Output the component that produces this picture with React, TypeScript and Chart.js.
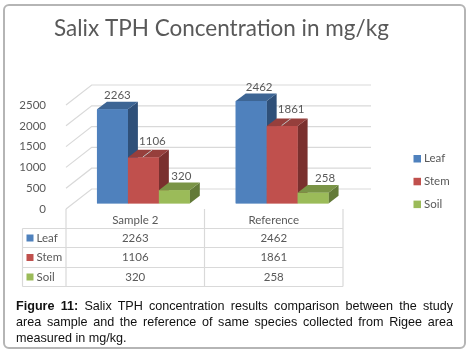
import React, { useEffect, useRef } from "react";
import { Chart, registerables } from "chart.js";

Chart.register(...registerables);

const categories = ["Sample 2", "Reference"];
const leafValues = [2263, 2462];
const stemValues = [1106, 1861];
const soilValues = [320, 258];
const yTicks = [0, 500, 1000, 1500, 2000, 2500];
const seriesNames = ["Leaf", "Stem", "Soil"];
const seriesFront = ["#4f81bd", "#c0504d", "#9bbb59"];
const seriesTop = ["#3d6594", "#963f3c", "#7a9446"];
const seriesSide = ["#2f5079", "#7a302e", "#637a38"];
const titleText = "Salix TPH Concentration in mg/kg";
const captionLead = "Figure 11:";
const captionText =
  " Salix TPH concentration results comparison between the study area sample and the reference of same species collected from Rigee area measured in mg/kg.";

const FONT = "Lato, 'Open Sans', sans-serif";
const TEXT = "#595959";
const GRID = "#d9d9d9";
const DX = 10, DY = 7.7;
const WALL_DX = 25.7, WALL_DY = 14.5;
// data label offsets from the bar's top centre, per series then per category
const LABEL_DX = [[5, 8], [9, 9], [7, 12]];
const LABEL_DY = [[10, 10], [12, 13], [10, 11]];

const threeD = {
  id: "threeD",
  beforeDatasetsDraw(chart: any) {
    const { ctx } = chart;
    const y = chart.scales.y;
    const x0 = 66;
    ctx.save();
    ctx.strokeStyle = GRID;
    ctx.lineWidth = 1.2;
    yTicks.forEach((v) => {
      const py = y.getPixelForValue(v);
      ctx.beginPath();
      ctx.moveTo(x0, py + 5.5);
      ctx.lineTo(x0 + WALL_DX, py - WALL_DY);
      ctx.lineTo(371, py - WALL_DY);
      ctx.stroke();
    });
    ctx.restore();
  },
  afterDatasetsDraw(chart: any) {
    const { ctx } = chart;
    const base = chart.scales.y.getPixelForValue(0);
    ctx.save();
    chart.data.datasets.forEach((_: any, i: number) => {
      chart.getDatasetMeta(i).data.forEach((bar: any) => {
        const l = bar.x - bar.width / 2;
        const r = bar.x + bar.width / 2;
        const t = bar.y;
        ctx.fillStyle = seriesSide[i];
        ctx.beginPath();
        ctx.moveTo(r, t);
        ctx.lineTo(r + DX, t - DY);
        ctx.lineTo(r + DX, base - DY);
        ctx.lineTo(r, base);
        ctx.closePath();
        ctx.fill();
        ctx.fillStyle = seriesTop[i];
        ctx.beginPath();
        ctx.moveTo(l, t);
        ctx.lineTo(l + DX, t - DY);
        ctx.lineTo(r + DX, t - DY);
        ctx.lineTo(r, t);
        ctx.closePath();
        ctx.fill();
      });
    });
    // redraw the fronts so that a later bar hides its neighbour's side face
    chart.data.datasets.forEach((ds: any, i: number) => {
      chart.getDatasetMeta(i).data.forEach((bar: any, j: number) => {
        const l = bar.x - bar.width / 2;
        ctx.fillStyle = seriesFront[i];
        ctx.fillRect(l, bar.y, bar.width, base - bar.y);
        const v = ds.data[j];
        ctx.fillStyle = TEXT;
        ctx.font = `11.5px ${FONT}`;
        ctx.textAlign = "center";
        ctx.textBaseline = "alphabetic";
        ctx.fillText(String(v), bar.x + LABEL_DX[i][j], bar.y - LABEL_DY[i][j]);
        if (i === 1) {
          ctx.strokeStyle = "#bfbfbf";
          ctx.lineWidth = 1;
          ctx.beginPath();
          ctx.moveTo(bar.x - 0.5, bar.y - 0.5);
          ctx.lineTo(bar.x + 9, bar.y - DY);
          ctx.stroke();
        }
      });
    });
    ctx.restore();
  },
  afterDraw(chart: any) {
    const { ctx } = chart;
    ctx.save();
    ctx.fillStyle = TEXT;
    ctx.font = `22.5px ${FONT}`;
    ctx.textAlign = "left";
    ctx.textBaseline = "alphabetic";
    ctx.fillText(titleText, 54, 36);

    // data table below the plot
    const cols = [22.5, 66, 204.5, 343];
    const rows = [209, 228.5, 247.5, 267.5, 286.5];
    ctx.strokeStyle = GRID;
    ctx.lineWidth = 1.2;
    const hline = (y: number, a: number, b: number) => {
      ctx.beginPath(); ctx.moveTo(a, y); ctx.lineTo(b, y); ctx.stroke();
    };
    const vline = (x: number, a: number, b: number) => {
      ctx.beginPath(); ctx.moveTo(x, a); ctx.lineTo(x, b); ctx.stroke();
    };
    for (let r = 1; r < rows.length; r++) hline(rows[r], cols[0], cols[3]);
    vline(cols[0], rows[1], rows[4]);
    vline(cols[1], rows[0], rows[4]);
    vline(cols[2], rows[0], rows[4]);
    vline(cols[3], rows[0], rows[4]);

    ctx.font = `11.5px ${FONT}`;
    ctx.fillStyle = TEXT;
    ctx.textAlign = "center";
    ctx.textBaseline = "middle";
    categories.forEach((c, j) => {
      const cx = (cols[j + 1] + cols[j + 2]) / 2;
      ctx.fillText(c, cx, (rows[0] + rows[1]) / 2 + 2);
    });
    chart.data.datasets.forEach((ds: any, i: number) => {
      const cy = (rows[i + 1] + rows[i + 2]) / 2;
      ctx.fillStyle = seriesFront[i];
      ctx.fillRect(26.5, cy - 3.5, 7, 7);
      ctx.fillStyle = TEXT;
      ctx.textAlign = "left";
      ctx.fillText(ds.label, 36.5, cy);
      ctx.textAlign = "center";
      ds.data.forEach((v: number, j: number) => {
        ctx.fillText(String(v), (cols[j + 1] + cols[j + 2]) / 2, cy);
      });
    });

    // legend on the right
    seriesNames.forEach((n, i) => {
      const cy = 158.5 + i * 22.8;
      ctx.fillStyle = seriesFront[i];
      ctx.fillRect(413.5, cy - 3.5, 7.5, 7.5);
      ctx.fillStyle = TEXT;
      ctx.textAlign = "left";
      ctx.fillText(n, 424, cy);
    });
    ctx.restore();
  },
};

export default function App() {
  const ref = useRef<HTMLCanvasElement>(null);
  useEffect(() => {
    document.body.style.margin = "0";
    const chart = new Chart(ref.current!, {
      type: "bar",
      data: {
        labels: categories,
        datasets: [
          { label: seriesNames[0], data: leafValues, backgroundColor: seriesFront[0] },
          { label: seriesNames[1], data: stemValues, backgroundColor: seriesFront[1] },
          { label: seriesNames[2], data: soilValues, backgroundColor: seriesFront[2] },
        ],
      },
      options: {
        responsive: false,
        animation: false,
        layout: { padding: { left: 0, right: 121.5, top: 99.5, bottom: 151.5 } },
        datasets: { bar: { categoryPercentage: 0.669, barPercentage: 1 } },
        plugins: { legend: { display: false }, title: { display: false }, tooltip: { enabled: false } },
        scales: {
          x: { display: false, grid: { display: false } },
          y: {
            min: 0,
            max: 2500,
            afterFit: (s: any) => { s.width = 74; },
            afterBuildTicks: (s: any) => { s.ticks = yTicks.map((value) => ({ value })); },
            grid: { display: false },
            border: { display: false },
            ticks: {
              padding: 20,
              labelOffset: 5.5,
              color: TEXT,
              font: { family: FONT, size: 11.5 },
              callback: (v: any) => String(v),
            },
          },
        },
      },
      plugins: [threeD],
    } as any);
    return () => chart.destroy();
  }, []);

  return (
    <div style={{ position: "relative", width: 473, height: 355, overflow: "hidden", background: "#fff" }}>
      <canvas ref={ref} width={473} height={355} style={{ position: "absolute", left: 0, top: 0, display: "block" }} />
      <div
        style={{
          position: "absolute", left: 3, top: 4, width: 463, height: 345,
          boxSizing: "border-box", border: "2px solid #b5b5b5", borderRadius: 6,
        }}
      />
      <div
        style={{
          position: "absolute", left: 16, top: 297.5, width: 437,
          font: "12.6px/16px 'Liberation Sans', Arial, sans-serif",
          color: "#111", textAlign: "justify",
        }}
      >
        <b>{captionLead}</b>
        {captionText}
      </div>
    </div>
  );
}
